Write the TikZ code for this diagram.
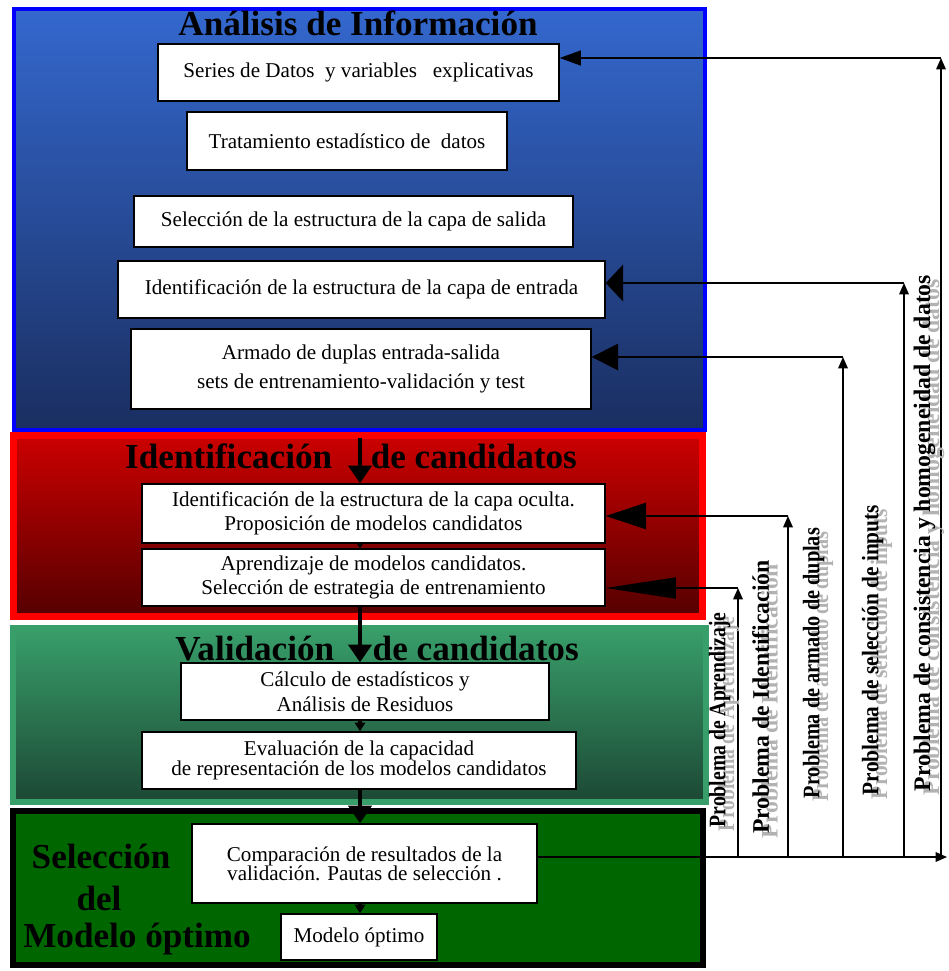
\documentclass[tikz,border=0pt]{standalone}
\usepackage{fontspec}
\setmainfont{Liberation Serif}
\usetikzlibrary{arrows.meta}

\definecolor{infotop}{RGB}{52,104,206}
\definecolor{infobot}{RGB}{26,46,96}
\definecolor{identtop}{RGB}{204,0,0}
\definecolor{identbot}{RGB}{85,0,0}
\definecolor{validtop}{RGB}{56,158,106}
\definecolor{validbot}{RGB}{28,72,52}
\definecolor{seldark}{RGB}{0,102,0}

\newcommand{\panelfont}{\fontsize{20}{24}\selectfont\bfseries}
\newcommand{\boxtextfont}{\fontsize{12}{14}\selectfont}
\newcommand{\probfont}{\fontsize{13.5}{16}\selectfont\bfseries}
\newcommand{\shadowtxt}[1]{\rlap{\kern-2.5pt\raisebox{-5pt}{\textcolor{black!30}{#1}}}#1}

\tikzset{
  box/.style={draw, fill=white, line width=0.8pt, align=center, inner sep=2pt, font=\boxtextfont},
  paneltitle/.style={font=\panelfont, anchor=base},
  spinearrow/.style={line width=2.4pt, -{Triangle[width=13pt,length=10pt]}},
  spinesmall/.style={line width=2.4pt, -{Triangle[width=6pt,length=5pt]}},
  feed/.style={line width=0.8pt, -{Triangle[width=5.5pt,length=6.5pt]}},
  back/.style 2 args={line width=0.8pt, -{Triangle[length=#1,width=#2]}},
  problabel/.style={rotate=90, font=\probfont}
}

\begin{document}
\begin{tikzpicture}[x=0.02cm, y=-0.02cm]
  \useasboundingbox (0,0) rectangle (948,971);

  % Four panels
  \draw[line width=2.8pt, draw=blue, top color=infotop, bottom color=infobot] (14,9) rectangle (705,430);
  \draw[line width=4pt, draw=red, top color=identtop, bottom color=identbot] (13.5,435.5) rectangle (702.5,616.5);
  \draw[line width=3.4pt, draw=validtop, top color=validtop, bottom color=validbot] (13,628) rectangle (706,802);
  \draw[line width=3.4pt, draw=black, fill=seldark] (13,811) rectangle (703,965);

  % Panel titles
  \node[paneltitle] (tinfo) at (358,35) {Análisis de Información};
  \node[paneltitle] (tident) at (351,468) {Identificación\hspace{1.1em}de candidatos};
  \node[paneltitle] (tvalid) at (377,660) {Validación\hspace{1.1em}de candidatos};
  \node[paneltitle] (tsel1) at (101,868) {Selección};
  \node[paneltitle] (tsel2) at (99,910) {del};
  \node[paneltitle] (tsel3) at (137,947) {Modelo óptimo};

  % Steps
  \node[box, minimum width=8.02cm, minimum height=1.14cm] (datos) at (358.5,72.5) {Series de Datos\ \ y variables\ \ \ explicativas};
  \node[box, minimum width=6.4cm, minimum height=1.16cm] (tratam) at (347,141) {Tratamiento estadístico de\ \ datos};
  \node[box, minimum width=8.78cm, minimum height=1.02cm] (salida) at (353.5,221.5) {Selección de la estructura de la capa de salida};
  \node[box, minimum width=9.74cm, minimum height=1.14cm] (entrada) at (361.5,289.5) {Identificación de la estructura de la capa de entrada};
  \node[box, minimum width=9.2cm, minimum height=1.6cm, font=\fontsize{12}{16}\selectfont] (duplas) at (361,369) {Armado de duplas entrada-salida\\sets de entrenamiento-validación y test};
  \node[box, minimum width=9.26cm, minimum height=1.18cm] (ident) at (373.5,513.5) {Identificación de la estructura de la capa oculta.\\Proposición de modelos candidatos};
  \node[box, minimum width=9.26cm, minimum height=1.14cm] (aprend) at (373.5,577.5) {Aprendizaje de modelos candidatos.\\Selección de estrategia de entrenamiento};
  \node[box, minimum width=7.36cm, minimum height=1.14cm] (calculo) at (365,691.5) {Cálculo de estadísticos y\\Análisis de Residuos};
  \node[box, minimum width=8.68cm, minimum height=1.14cm, font=\fontsize{12}{11.5}\selectfont] (evalua) at (359,760.5) {Evaluación de la capacidad\\de representación de los modelos candidatos};
  \node[box, minimum width=6.9cm, minimum height=1.58cm, font=\fontsize{12}{11}\selectfont] (compara) at (364.5,863.5) {Comparación de resultados de la\\validación. Pautas de selección .};
  \node[box, minimum width=3.12cm, minimum height=0.92cm] (optimo) at (359,937) {Modelo óptimo};

  % Main flow
  \coordinate (spine) at (360,0);
  \coordinate (redtop) at (360,438);
  \draw[spinearrow] (redtop) -- (redtop |- ident.north);
  \draw[line width=2.4pt, -{Triangle[width=4pt,length=3pt]}] (ident.south -| spine) -- (aprend.north -| spine);
  \draw[spinearrow] (aprend.south -| spine) -- (calculo.north -| spine);
  \draw[spinesmall] (calculo.south -| spine) -- (evalua.north -| spine);
  \draw[spinearrow] (evalua.south -| spine) -- (compara.north -| spine);
  \draw[spinesmall] (compara.south -| spine) -- (optimo.north -| spine);

  % Feedback lines
  \coordinate (base) at (0,857);
  \coordinate (baseend) at (947,857);
  \coordinate (kA) at (738,588);
  \coordinate (kI) at (788,516);
  \coordinate (kD) at (843,357);
  \coordinate (kS) at (904,283);
  \coordinate (kC) at (941,58);
  \draw[feed] (compara.east |- base) -- (baseend);
  \foreach \k in {kA,kI,kD,kS,kC}
    \draw[feed] (\k |- base) -- (\k);
  \draw[back={40pt}{12pt}] (kA) -- (kA -| aprend.east);
  \draw[back={23pt}{15pt}] (kI) -- (kI -| ident.east);
  \draw[back={15pt}{15pt}] (kD) -- (kD -| duplas.east);
  \draw[back={10pt}{21pt}] (kS) -- (kS -| entrada.east);
  \draw[back={12pt}{8.5pt}] (kC) -- (kC -| datos.east);

  % Problem labels
  \node[problabel] (pa) at (724,720) {\scalebox{0.83}[1]{\shadowtxt{Problema de Aprendizaje}}};
  \node[problabel] (pi) at (765,697) {\shadowtxt{Problema de Identificación}};
  \node[problabel] (pd) at (818,663) {\scalebox{0.855}[1]{\shadowtxt{Problema de armado de duplas}}};
  \node[problabel] (ps) at (877,650) {\scalebox{0.9}[1]{\shadowtxt{Problema de selección de inputs}}};
  \node[problabel] (pc) at (929,533) {\shadowtxt{Problema de consistencia y homogeneidad de datos}};
\end{tikzpicture}
\end{document}
